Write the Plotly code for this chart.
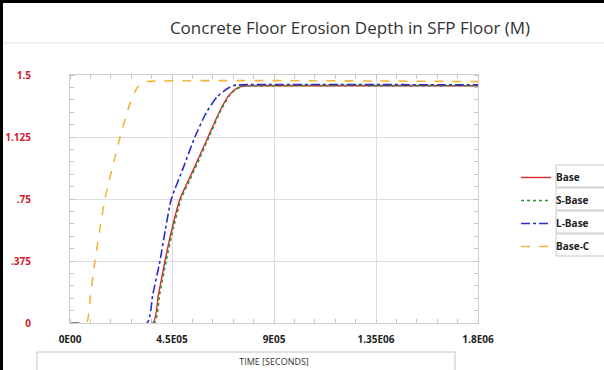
import plotly.graph_objects as go

# ---- data ----
base_t = [0, 366000, 390000, 419000, 450000, 485000, 520000, 560000, 609000, 662000, 700000, 730000, 760000, 790000, 1800000]
base_v = [0, 0, 0.17, 0.375, 0.57, 0.75, 0.855, 0.975, 1.125, 1.285, 1.375, 1.415, 1.432, 1.435, 1.435]

sbase_t = [0, 371000, 395000, 424000, 455000, 490000, 525000, 565000, 613000, 665000, 703000, 733000, 763000, 793000, 1800000]
sbase_v = [0, 0, 0.17, 0.375, 0.57, 0.75, 0.855, 0.975, 1.125, 1.285, 1.375, 1.415, 1.432, 1.435, 1.435]

lbase_t = [0, 340000, 365000, 397000, 420000, 447000, 500000, 551000, 600000, 650000, 697000, 720000, 740000, 1800000]
lbase_v = [0, 0, 0.17, 0.375, 0.56, 0.75, 0.94, 1.125, 1.27, 1.37, 1.42, 1.435, 1.44, 1.44]

basec_t = [0, 73000, 90000, 110000, 154000, 221000, 265000, 295000, 315000, 335000, 1800000]
basec_v = [0, 0, 0.16, 0.375, 0.75, 1.125, 1.33, 1.42, 1.45, 1.46, 1.46]

x_ticks = [0, 450000, 900000, 1350000, 1800000]
x_tick_text = ["0E00", "4.5E05", "9E05", "1.35E06", "1.8E06"]
y_ticks = [0, 0.375, 0.75, 1.125, 1.5]
y_tick_text = ["0", ".375", ".75", "1.125", "1.5"]

series = [
    ("Base", base_t, base_v, "#e3262b", "solid", 1.4),
    ("S-Base", sbase_t, sbase_v, "#2f8f3a", "dot", 1.6),
    ("L-Base", lbase_t, lbase_v, "#2b2fc8", "dashdot", 1.6),
    ("Base-C", basec_t, basec_v, "#f3b43c", "dash", 1.6),
]

fig = go.Figure()
for i, (name, t, v, c, d, w) in enumerate(series):
    fig.add_trace(go.Scatter(x=t, y=v, mode="lines", name=name,
                             line=dict(color=c, dash=d, width=w, shape="spline", smoothing=0.5),
                             legendrank=i + 1, legendgroup=name))

W, H = 604, 370
L, R, T, B = 70, 126, 75, 47
pw, ph = W - L - R, H - T - B

def px_x(p):
    return (p - L) / pw

def px_y(p):
    return 1 - (p - T) / ph

shapes = []
# black frame at top and left
shapes.append(dict(type="rect", xref="paper", yref="paper", x0=px_x(0), x1=px_x(3), y0=px_y(H), y1=px_y(0),
                   fillcolor="black", line=dict(width=0), layer="above"))
shapes.append(dict(type="rect", xref="paper", yref="paper", x0=px_x(0), x1=px_x(W), y0=px_y(3), y1=px_y(0),
                   fillcolor="black", line=dict(width=0), layer="above"))
# faint title separator
shapes.append(dict(type="line", xref="paper", yref="paper", x0=px_x(3), x1=px_x(W), y0=px_y(43), y1=px_y(43),
                   line=dict(color="#e6e6e6", width=1)))
# x-axis title box
shapes.append(dict(type="rect", xref="paper", yref="paper", x0=px_x(37), x1=px_x(455), y0=px_y(372), y1=px_y(352),
                   line=dict(color="#c4c4c4", width=1), fillcolor="rgba(0,0,0,0)"))
# legend boxes
for k in range(4):
    y0 = 165 + k * 23
    shapes.append(dict(type="rect", xref="paper", yref="paper", x0=px_x(556), x1=px_x(606),
                       y0=px_y(y0 + 22), y1=px_y(y0), line=dict(color="#c8c8c8", width=1),
                       fillcolor="rgba(0,0,0,0)"))

fig.update_layout(
    width=W, height=H,
    margin=dict(l=L, r=R, t=T, b=B, autoexpand=False),
    paper_bgcolor="white", plot_bgcolor="white",
    title=dict(text="Concrete Floor Erosion Depth in SFP Floor (M)", x=350 / W, xanchor="center",
               y=1 - 28 / H, yanchor="middle", font=dict(family="Open Sans", size=17, color="#333333")),
    font=dict(family="Open Sans"),
    legend=dict(x=px_x(516), xanchor="left", y=px_y(163), yanchor="top", bgcolor="rgba(0,0,0,0)",
                font=dict(family="Open Sans", size=10, color="#222222", weight="bold"),
                tracegroupgap=4, itemwidth=30, traceorder="grouped"),
    shapes=shapes,
    showlegend=True,
)

fig.update_xaxes(range=[0, 1800000], tickvals=x_ticks, ticktext=x_tick_text,
                 showgrid=True, gridcolor="#dcdcdc", gridwidth=1, zeroline=False,
                 showline=True, linecolor="#d0d0d0", linewidth=1, mirror="allticks",
                 ticks="outside", ticklen=7, tickcolor="rgba(0,0,0,0)",
                 tickfont=dict(family="Open Sans", size=10, color="#222222", weight="bold"),
                 minor=dict(dtick=90000, tick0=0, ticks="inside", ticklen=4, tickcolor="#c4c4c4", showgrid=False),
                 title=dict(text="TIME [SECONDS]", font=dict(family="Open Sans", size=9, color="#333333"), standoff=13))
fig.update_yaxes(range=[0, 1.5], tickvals=y_ticks, ticktext=y_tick_text,
                 showgrid=True, gridcolor="#dcdcdc", gridwidth=1, zeroline=False,
                 showline=True, linecolor="#d0d0d0", linewidth=1, mirror="allticks",
                 ticks="outside", ticklen=36, tickcolor="rgba(0,0,0,0)",
                 tickfont=dict(family="Open Sans", size=10, color="#d0202a", weight="bold"),
                 minor=dict(dtick=0.075, tick0=0, ticks="inside", ticklen=4, tickcolor="#c4c4c4", showgrid=False))

fig.write_html("out.html", config={"displayModeBar": False},
               post_script="document.body.style.margin='0';document.body.style.overflow='hidden';")
